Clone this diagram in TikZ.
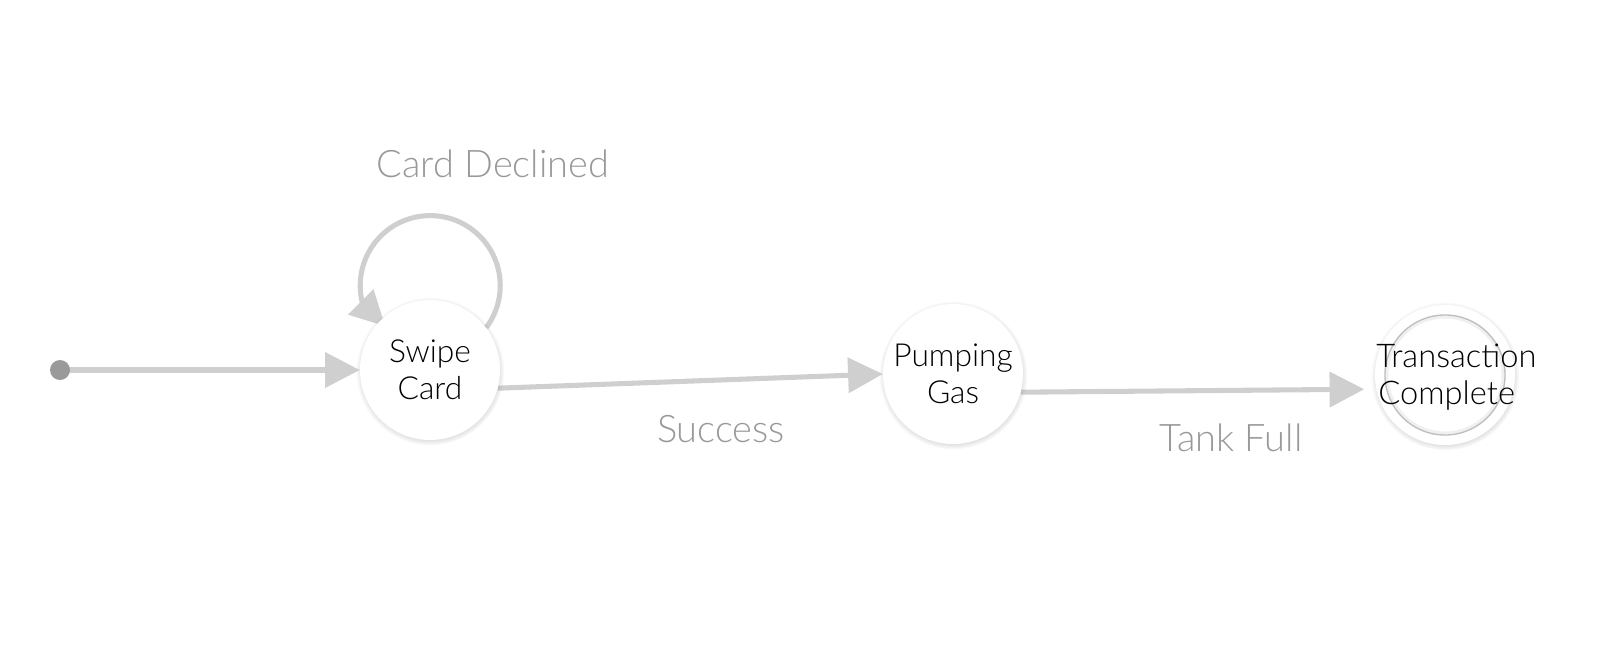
\documentclass[tikz,border=0pt]{standalone}
\usepackage{fontspec}
\setmainfont{Lato Light}
\usetikzlibrary{arrows.meta,shadows}
\pgfdeclarelayer{edges}
\pgfsetlayers{edges,main}
\definecolor{edgegray}{HTML}{CFCFCF}
\definecolor{labelgray}{HTML}{999999}
\definecolor{dotgray}{HTML}{9A9A9A}
\tikzset{
  state/.style={circle, fill=white, minimum size=105pt, inner sep=0pt,
    align=center, font=\fontsize{23.8}{28}\selectfont,
    circular drop shadow={shadow xshift=0pt, shadow yshift=-0.8pt, shadow scale=1.06, opacity=0.45}},
  edgeline/.style={draw=edgegray, line width=3.8pt},
  edge/.style={edgeline, -{Triangle[length=26pt,width=26pt,color=edgegray]}},
  lbl/.style={text=labelgray, font=\fontsize{28.5}{34}\selectfont},
}
\begin{document}
\begin{tikzpicture}[x=0.75pt,y=-0.75pt]
\useasboundingbox (0,0) rectangle (1624,662);
\node[state] (s) at (430,370) {Swipe\\Card};
\node[state] (p) at (953,374) {Pumping\\Gas};
\node[state, outer sep=9pt] (t) at (1445,375) {};
\draw[gray!12, line width=3pt] (t.center) circle[radius=58.5];
\draw[gray!50, line width=1pt] (t.center) circle[radius=60];
\node[font=\fontsize{24.5}{28}\selectfont, align=left, anchor=west, inner sep=0pt] (tt) at (1376,377) {Transaction\\\hspace*{1.5pt}Complete};
\coordinate (i) at (60,370);
\fill[dotgray] (i) circle[radius=10];
\begin{pgfonlayer}{edges}
\draw[edge] (i) -- (s.west);
\draw[edgeline] (s.37) arc[start angle=37, end angle=-195, radius=70] coordinate (le);
\draw[edge] (le) -- ([shift={(5,6)}]s.135);
\draw[edge] (s.-15) -- (p.west);
\draw[edge] (p.-15) -- (t.190);
\end{pgfonlayer}
\node[lbl] (l1) at (493,164) {Card Declined};
\node[lbl] (l2) at (721,429) {Success};
\node[lbl] (l3) at (1231,438) {Tank Full};
\end{tikzpicture}
\end{document}
